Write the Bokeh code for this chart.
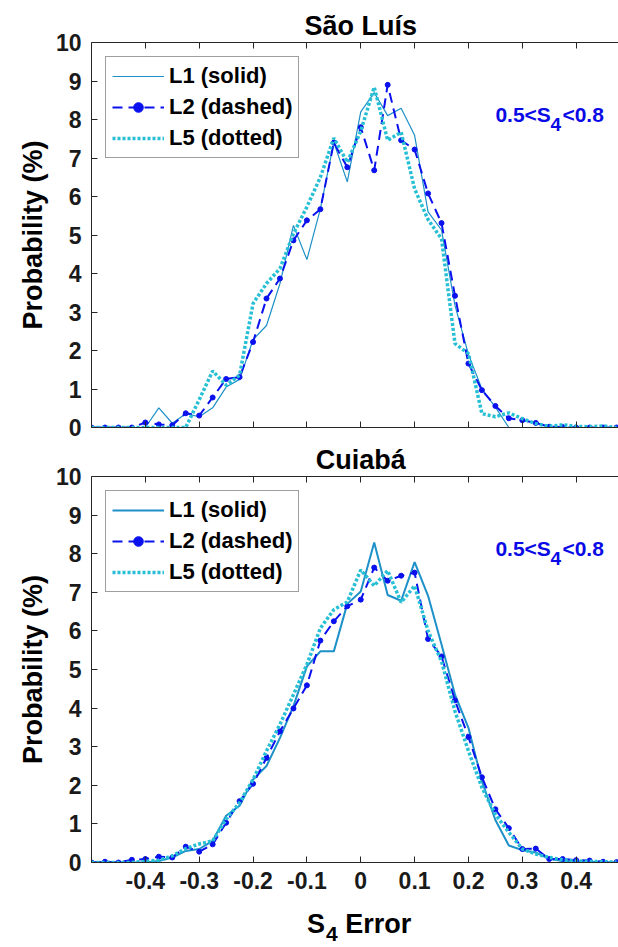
from bokeh.plotting import figure
from bokeh.models import (Range1d, LinearAxis, FixedTicker, CustomJSTickFormatter,
                          Legend, LegendItem, Label, ColumnDataSource, Div)
from bokeh.layouts import column
from bokeh.embed import file_html
from bokeh.resources import INLINE

# ---------------- data ----------------
s4_error = [-0.5, -0.475, -0.45, -0.425, -0.4, -0.375, -0.35, -0.325, -0.3, -0.275,
            -0.25, -0.225, -0.2, -0.175, -0.15, -0.125, -0.1, -0.075, -0.05, -0.025,
            0.0, 0.025, 0.05, 0.075, 0.1, 0.125, 0.15, 0.175, 0.2, 0.225,
            0.25, 0.275, 0.3, 0.325, 0.35, 0.375, 0.4, 0.425, 0.45, 0.475]

sao_L1 = [0, 0, 0, 0, 0, 0.51, 0.11, 0.36, 0.28, 0.51,
          1.05, 1.25, 2.28, 2.65, 3.74, 5.25, 4.36, 5.68, 7.41, 6.38,
          8.20, 8.70, 8.10, 8.29, 7.59, 5.60, 5.13, 3.17, 1.90, 1.00,
          0.53, 0, 0, 0, 0, 0, 0, 0, 0, 0]
sao_L2 = [0, 0, 0, 0, 0.13, 0.08, 0.06, 0.37, 0.31, 0.78,
          1.26, 1.31, 2.22, 3.35, 3.87, 4.86, 5.38, 5.67, 7.40, 6.76,
          7.80, 6.68, 8.90, 7.46, 7.22, 6.08, 5.31, 3.42, 1.66, 0.97,
          0.56, 0.24, 0.19, 0.12, 0.02, 0.01, 0, 0, 0, 0]
sao_L5 = [0, 0, 0, 0, 0, 0, 0, 0, 0.72, 1.47,
          1.10, 1.36, 3.22, 3.74, 4.13, 5.03, 5.73, 6.50, 7.52, 6.89,
          7.70, 8.84, 7.46, 7.67, 6.20, 5.40, 4.90, 2.18, 1.92, 0.36,
          0.28, 0.38, 0.23, 0.10, 0.03, 0.07, 0.03, 0.02, 0.04, 0]

cui_L1 = [0, 0, 0, 0, 0, 0.04, 0.13, 0.30, 0.35, 0.56,
          1.21, 1.47, 2.15, 2.50, 3.23, 4.05, 5.08, 5.47, 5.47, 6.70,
          7.02, 8.29, 6.93, 6.78, 7.78, 6.91, 5.65, 4.35, 3.49, 2.11,
          1.10, 0.44, 0.32, 0.26, 0.09, 0.04, 0.03, 0.02, 0.01, 0]
cui_L2 = [0, 0.02, 0, 0.07, 0.09, 0.15, 0.13, 0.41, 0.28, 0.47,
          1.03, 1.59, 2.04, 2.71, 3.40, 3.99, 4.59, 5.75, 6.25, 6.64,
          6.81, 7.64, 7.30, 7.43, 7.51, 5.79, 5.34, 4.20, 3.25, 2.21,
          1.38, 0.89, 0.35, 0.36, 0.09, 0.09, 0.06, 0.05, 0.02, 0.01]
cui_L5 = [0, 0, 0, 0, 0.03, 0.06, 0.17, 0.36, 0.48, 0.56,
          1.12, 1.55, 2.15, 2.89, 3.58, 4.35, 5.13, 6.07, 6.55, 6.75,
          7.58, 7.17, 7.56, 6.74, 7.17, 6.00, 5.21, 3.92, 2.89, 1.94,
          1.25, 0.78, 0.35, 0.22, 0.13, 0.07, 0.04, 0.03, 0.02, 0.01]

station_titles = ["São Luís", "Cuiabá"]
legend_labels = ["L1 (solid)", "L2 (dashed)", "L5 (dotted)"]
x_ticks = [-0.4, -0.3, -0.2, -0.1, 0.0, 0.1, 0.2, 0.3, 0.4]
y_ticks = [0, 1, 2, 3, 4, 5, 6, 7, 8, 9, 10]
range_text = ["0.5<S", "4", "<0.8"]
xlabel_text = ["S", "4", "Error"]
ylabel_text = "Probability (%)"

# ---------------- style ----------------
FONT = "Liberation Sans"
AX = "#262626"
C_L1 = "#1d90c8"
C_L2 = "#0a10ee"
C_L5 = "#26bfd4"
C_TXT = "#0a0ae6"

W = 618
LEFT = 91
FRAME_W = W - LEFT
X_LO = -0.5
PX_PER_X = 538.5
TITLE_PX = 27

# Liberation Sans Bold advance widths (em) for centring titles over x = 0
ADV = {"S": 0.667, "ã": 0.556, "o": 0.611, " ": 0.278, "L": 0.611, "u": 0.611,
       "í": 0.278, "s": 0.556, "C": 0.722, "i": 0.278, "a": 0.556, "b": 0.611,
       "á": 0.556}


def style_axis(ax, show_labels, fmt_code):
    ax.axis_line_color = AX
    ax.axis_line_width = 1
    ax.major_tick_line_color = AX
    ax.major_tick_in = 6
    ax.major_tick_out = 0
    ax.minor_tick_line_color = None
    ax.major_label_text_font = FONT
    ax.major_label_text_font_style = "bold"
    ax.major_label_text_color = "#1a1a1a"
    ax.major_label_text_font_size = "23px" if show_labels else "0px"
    if fmt_code is not None:
        ax.formatter = CustomJSTickFormatter(code=fmt_code)


def make_panel(title, l1, l2, l5, l1_width, bottom):
    frame_h = 387 if bottom else 385
    bt = 34 if bottom else 42
    bb = 45 if bottom else 14
    p = figure(width=W, height=bt + frame_h + bb,
               output_backend="svg", toolbar_location=None,
               x_range=Range1d(X_LO, X_LO + FRAME_W / PX_PER_X),
               y_range=Range1d(0, 10),
               min_border_left=LEFT, min_border_right=0,
               min_border_top=bt, min_border_bottom=bb,
               x_axis_location=None, y_axis_location=None)
    p.outline_line_color = None
    p.xgrid.visible = False
    p.ygrid.visible = False
    p.background_fill_color = "white"
    p.border_fill_color = "white"

    tw = sum(ADV.get(ch, 0.556) for ch in title) * TITLE_PX
    p.title.text = title
    p.title.text_font = FONT
    p.title.text_font_style = "bold"
    p.title.text_font_size = f"{TITLE_PX}px"
    p.title.text_color = "#000000"
    p.title.align = "left"
    p.title.offset = (0 - X_LO) * PX_PER_X - tw / 2
    p.title.standoff = 3

    xb = LinearAxis(ticker=FixedTicker(ticks=x_ticks))
    style_axis(xb, bottom,
               "return Math.abs(tick) < 1e-9 ? '0' : tick.toFixed(1);" if bottom else "return '';")
    xb.major_label_standoff = 9
    p.add_layout(xb, "below")

    xt = LinearAxis(ticker=FixedTicker(ticks=x_ticks))
    style_axis(xt, False, "return '';")
    xt.major_label_standoff = 0
    p.add_layout(xt, "above")

    yl = LinearAxis(ticker=FixedTicker(ticks=y_ticks))
    style_axis(yl, True, None)
    yl.major_label_standoff = 10
    yl.axis_label = ylabel_text
    yl.axis_label_text_font = FONT
    yl.axis_label_text_font_style = "bold"
    yl.axis_label_text_font_size = "27px"
    yl.axis_label_text_color = "#000000"
    yl.axis_label_standoff = 5
    p.add_layout(yl, "left")

    src = ColumnDataSource(dict(x=s4_error, l1=l1, l2=l2, l5=l5))
    r1 = p.line("x", "l1", source=src, line_color=C_L1, line_width=l1_width)
    r2 = p.line("x", "l2", source=src, line_color=C_L2, line_width=2, line_dash="10 6")
    r2m = p.scatter("x", "l2", source=src, marker="circle", size=5,
                    fill_color=C_L2, line_color=C_L2)
    r5 = p.line("x", "l5", source=src, line_color=C_L5, line_width=3.5, line_dash="3 2")

    legend = Legend(items=[LegendItem(label=legend_labels[0], renderers=[r1]),
                           LegendItem(label=legend_labels[1], renderers=[r2, r2m]),
                           LegendItem(label=legend_labels[2], renderers=[r5])],
                    location="top_left")
    legend.label_text_font = FONT
    legend.label_text_font_style = "bold"
    legend.label_text_font_size = "22px"
    legend.label_text_color = "#000000"
    legend.glyph_width = 52
    legend.glyph_height = 24
    legend.label_height = 24
    legend.label_standoff = 5
    legend.spacing = 5
    legend.padding = 6
    legend.margin = 14
    legend.border_line_color = "#404040"
    legend.border_line_width = 1
    legend.background_fill_color = "white"
    legend.background_fill_alpha = 1
    p.add_layout(legend)

    # range annotation 0.5<S_4<0.8
    ybase = 8.13
    px_per_y = frame_h / 10.0
    common = dict(text_font=FONT, text_font_style="bold", text_color=C_TXT,
                  text_baseline="alphabetic", text_align="left")
    p.add_layout(Label(x=0.25, y=ybase, text=range_text[0], text_font_size="21px", **common))
    p.add_layout(Label(x=0.25, y=ybase - 10 / px_per_y, x_offset=55, text=range_text[1],
                       text_font_size="19px", **common))
    p.add_layout(Label(x=0.25, y=ybase, x_offset=67, text=range_text[2],
                       text_font_size="21px", **common))
    return p


p1 = make_panel(station_titles[0], sao_L1, sao_L2, sao_L5, 1.2, False)
p2 = make_panel(station_titles[1], cui_L1, cui_L2, cui_L5, 2.0, True)

xlabel_left = int(LEFT + (0 - X_LO) * PX_PER_X - 53)
xlabel_html = (
    f'<div style="padding-left:{xlabel_left}px;white-space:nowrap;'
    f'font-family:\'{FONT}\';font-weight:bold;font-size:27px;color:#000;line-height:34px;">'
    f'{xlabel_text[0]}<span style="font-size:21px;position:relative;top:8px;'
    f'margin-left:1px;">{xlabel_text[1]}</span> {xlabel_text[2]}</div>'
)
xlabel = Div(text=xlabel_html, width=W, height=38, margin=(0, 0, 0, 0))

layout = column(p1, p2, xlabel, spacing=0)
open("out.html", "w").write(file_html(layout, INLINE))
